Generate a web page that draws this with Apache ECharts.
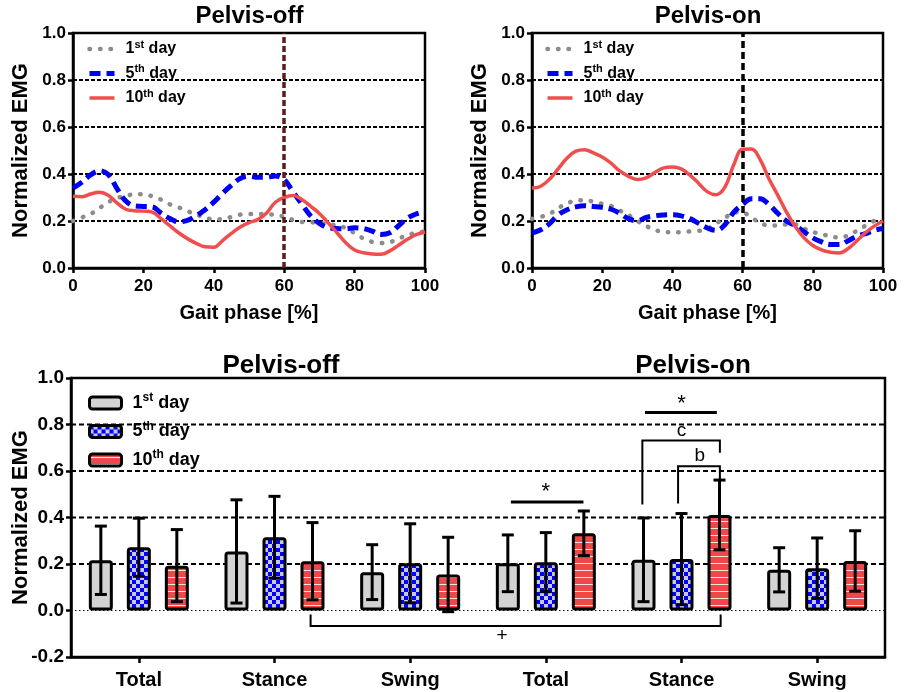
<!DOCTYPE html>
<html><head><meta charset="utf-8">
<script src="https://cdn.jsdelivr.net/npm/echarts@6/dist/echarts.min.js"></script>
<style>html,body{margin:0;padding:0;background:#fff}#c{width:904px;height:692px}</style>
</head><body><div id="c"></div>
<script>
// ---------- DATA ----------
const gaitPhase = [0,2.5,5,7.5,10,12.5,15,17.5,20,22.5,25,27.5,30,32.5,35,37.5,40,42.5,45,47.5,50,52.5,55,57.5,60,62.5,65,67.5,70,72.5,75,77.5,80,82.5,85,87.5,90,92.5,95,97.5,100];
const gaitTicks = [0,20,40,60,80,100];
const stanceSwingBoundary = 60;

const off1st  = [0.200,0.215,0.230,0.255,0.280,0.297,0.308,0.313,0.314,0.305,0.291,0.271,0.258,0.242,0.228,0.215,0.207,0.208,0.217,0.227,0.230,0.230,0.229,0.226,0.218,0.205,0.196,0.195,0.190,0.187,0.180,0.170,0.148,0.126,0.111,0.106,0.110,0.125,0.140,0.150,0.155];
const off5th  = [0.340,0.365,0.396,0.414,0.398,0.338,0.285,0.264,0.262,0.260,0.234,0.211,0.197,0.203,0.222,0.248,0.280,0.318,0.352,0.381,0.390,0.386,0.386,0.392,0.377,0.324,0.272,0.222,0.190,0.172,0.168,0.167,0.171,0.168,0.157,0.143,0.150,0.180,0.212,0.230,0.240];
const off10th = [0.305,0.303,0.315,0.322,0.310,0.277,0.250,0.244,0.242,0.238,0.210,0.180,0.150,0.125,0.105,0.090,0.088,0.117,0.147,0.174,0.193,0.206,0.234,0.280,0.300,0.308,0.292,0.263,0.232,0.192,0.150,0.107,0.077,0.065,0.060,0.058,0.073,0.097,0.122,0.142,0.153];

const on1st  = [0.209,0.218,0.230,0.255,0.275,0.286,0.288,0.282,0.273,0.264,0.244,0.225,0.200,0.179,0.162,0.154,0.152,0.152,0.156,0.158,0.167,0.190,0.213,0.237,0.236,0.214,0.192,0.181,0.181,0.185,0.185,0.168,0.153,0.145,0.134,0.130,0.138,0.158,0.180,0.200,0.210];
const on5th  = [0.149,0.163,0.189,0.226,0.248,0.260,0.265,0.262,0.258,0.250,0.233,0.210,0.201,0.215,0.222,0.226,0.227,0.222,0.210,0.190,0.170,0.160,0.185,0.238,0.270,0.295,0.295,0.270,0.233,0.200,0.180,0.154,0.128,0.111,0.100,0.100,0.115,0.135,0.146,0.160,0.168];
const on10th = [0.340,0.348,0.378,0.423,0.468,0.497,0.503,0.490,0.472,0.446,0.413,0.390,0.377,0.384,0.406,0.426,0.430,0.422,0.395,0.360,0.324,0.312,0.345,0.440,0.505,0.506,0.461,0.380,0.310,0.238,0.177,0.128,0.096,0.077,0.067,0.064,0.082,0.115,0.150,0.178,0.200];

const barCategories = ['Total','Stance','Swing','Total','Stance','Swing'];
const day1Mean  = [0.216,0.254,0.165,0.203,0.218,0.175];
const day1Sd    = [0.147,0.222,0.118,0.122,0.180,0.095];
const day5Mean  = [0.272,0.315,0.203,0.208,0.221,0.182];
const day5Sd    = [0.125,0.176,0.170,0.127,0.196,0.130];
const day10Mean = [0.193,0.212,0.155,0.332,0.411,0.213];
const day10Sd   = [0.155,0.166,0.160,0.096,0.150,0.130];

const barTicks = [-0.2,0.0,0.2,0.4,0.6,0.8,1.0];
const dashedGridValues = [0.2,0.4,0.6,0.8];
const dottedGridValues = [0.0];

// significance annotations: catA, slotA, valA, catB, slotB, valB, level, textCat, textSlot, textVal
const annotText = ['*','*','c','b','+'];
const annotRows = [
  [3,-0.92,0.467, 3,0.99,0.467, 0.467, 3,0,0.508],
  [4,-0.96,0.852, 4,0.93,0.852, 0.852, 4,0,0.888],
  [4,-1.03,0.456, 4,1.01,0.678, 0.731, 4,0,0.772],
  [4,-0.09,0.460, 4,1.01,0.566, 0.620, 4,0.48,0.664],
  [1,0.95,-0.017, 4,1.03,-0.017,-0.067, 3,-1.15,-0.110]
];

// ---------- STYLE ----------
const FONT = "'Liberation Sans', Arial, Helvetica, sans-serif";
const BAR_W = 24, BAR_STEP = 38;
const GRAY = '#8c8c8c', BLUE = '#0000f0', RED = '#f04e4e';
const LS = {
  dot:  {color:GRAY,width:4.5,type:[0.5,10],cap:'round'},
  dash: {color:BLUE,width:5,type:[11,6]},
  solid:{color:RED,width:3.5}
};

function checker(){
  const c=document.createElement('canvas'); c.width=8; c.height=8;
  const g=c.getContext('2d'); g.fillStyle='#c8c8e4'; g.fillRect(0,0,8,8);
  g.fillStyle='#0000ff'; g.fillRect(0,0,4,4); g.fillRect(4,4,4,4); return c;
}
function stripes(){
  const c=document.createElement('canvas'); c.width=8; c.height=7;
  const g=c.getContext('2d'); g.fillStyle='#ef4848'; g.fillRect(0,0,8,7);
  g.fillStyle='rgba(255,255,255,0.85)'; g.fillRect(0,3,8,1); return c;
}
const checkerFill = {image: checker(), repeat:'repeat'};
const stripeFill  = {image: stripes(), repeat:'repeat'};

function dayLabel(num, suf, key){ return '{'+key+'|'+num+'}{'+key+'s|'+suf+'}{'+key+'| day}'; }
const legendNames = {
  off1: dayLabel('1','st','n'), off5: dayLabel('5','th','n'), off10: dayLabel('10','th','n'),
  on1: dayLabel('1','st','n'), on5: dayLabel('5','th','n'), on10: dayLabel('10','th','n'),
  b1: dayLabel('1','st','m'), b5: dayLabel('5','th','m'), b10: dayLabel('10','th','m')
};
const legendRich = {
  n:{fontSize:16,fontWeight:'bold',fontFamily:FONT,color:'#000',lineHeight:20},
  ns:{fontSize:11,fontWeight:'bold',fontFamily:FONT,color:'#000',lineHeight:12,verticalAlign:'top'},
  m:{fontSize:18,fontWeight:'bold',fontFamily:FONT,color:'#000',lineHeight:22},
  ms:{fontSize:12,fontWeight:'bold',fontFamily:FONT,color:'#000',lineHeight:13,verticalAlign:'top'}
};

function lineAxisX(idx){
  return {type:'value', gridIndex:idx, min:0, max:100, interval:20,
    name:'Gait phase [%]', nameLocation:'middle', nameGap:35, nameMoveOverlap:false,
    nameTextStyle:{fontSize:20,fontWeight:'bold',fontFamily:FONT,color:'#000'},
    axisLine:{show:true,lineStyle:{color:'#000',width:2.5}},
    axisTick:{show:true,length:5,lineStyle:{color:'#000',width:2.5}},
    axisLabel:{fontSize:17,fontWeight:'bold',fontFamily:FONT,color:'#000',margin:10},
    splitLine:{show:false}};
}
function lineAxisY(idx){
  return {type:'value', gridIndex:idx, min:0, max:1, interval:0.2,
    name:'Normalized EMG', nameLocation:'middle', nameGap:41, nameMoveOverlap:false,
    nameTextStyle:{fontSize:22,fontWeight:'bold',fontFamily:FONT,color:'#000'},
    axisLine:{show:true,lineStyle:{color:'#000',width:2.5}},
    axisTick:{show:true,length:5,lineStyle:{color:'#000',width:2.5}},
    axisLabel:{fontSize:17,fontWeight:'bold',fontFamily:FONT,color:'#000',margin:7,formatter:v=>v.toFixed(1)},
    splitLine:{show:true,lineStyle:{color:'#000',width:1.8,type:[4,2]}}};
}
function pairs(arr){ return gaitPhase.map((x,i)=>[x,arr[i]]); }
function curve(name, idx, arr, kind, mark){
  const ls = LS[kind];
  const s = {type:'line', name, xAxisIndex:idx, yAxisIndex:idx, data:pairs(arr), smooth:0.4,
    symbol:'none', lineStyle:ls, itemStyle:{color:ls.color}, z:3, animation:false};
  if (mark) s.markLine = {silent:true, symbol:'none', label:{show:false}, animation:false,
    lineStyle:mark, data:[{xAxis:stanceSwingBoundary}]};
  return s;
}
function errorBars(slot, mean, sd){
  return {type:'custom', xAxisIndex:2, yAxisIndex:2, z:6, silent:true, animation:false,
    data: mean.map((m,i)=>[i,m,sd[i]]), encode:{x:0,y:1},
    renderItem:(params, api)=>{
      const cat=api.value(0), m=api.value(1), s=api.value(2);
      const t=api.coord([cat,m+s]), b=api.coord([cat,m-s]);
      const x=t[0]+slot*BAR_STEP, hw=6, st={stroke:'#000',lineWidth:3};
      return {type:'group',children:[
        {type:'line',shape:{x1:x,y1:t[1],x2:x,y2:b[1]},style:st},
        {type:'line',shape:{x1:x-hw,y1:t[1],x2:x+hw,y2:t[1]},style:st},
        {type:'line',shape:{x1:x-hw,y1:b[1],x2:x+hw,y2:b[1]},style:st}]};
    }};
}
function gridLines(values, style){
  return {type:'custom', xAxisIndex:2, yAxisIndex:2, z:1, silent:true, animation:false,
    data: values.map(v=>[0,v]), encode:{x:0,y:1},
    renderItem:(params, api)=>{
      const y=api.coord([0,api.value(1)])[1], cs=params.coordSys;
      return {type:'line',shape:{x1:cs.x,y1:y,x2:cs.x+cs.width,y2:y},style:style};
    }};
}
const annotSeries = {type:'custom', xAxisIndex:2, yAxisIndex:2, z:7, silent:true, animation:false,
  data: annotRows.map(r=>r.slice()), encode:{x:0,y:2},
  renderItem:(params, api)=>{
    const v=k=>api.value(k);
    const px=(cat,slot,val)=>{const p=api.coord([cat,val]); return [p[0]+slot*BAR_STEP,p[1]];};
    const a=px(v(0),v(1),v(2)), al=px(v(0),v(1),v(6)), bl=px(v(3),v(4),v(6)), b=px(v(3),v(4),v(5));
    const flat = v(2)===v(6) && v(5)===v(6);
    const tp=px(v(7),v(8),v(9)); const txt=annotText[params.dataIndex];
    return {type:'group',children:[
      {type:'polyline',shape:{points:[a,al,bl,b]},style:{stroke:'#000',lineWidth:flat?3:2,fill:null}},
      {type:'text',x:tp[0],y:tp[1],style:{text:txt,fill:'#000',font:(txt==='*'?'22px ':'19px ')+FONT,align:'center',verticalAlign:'middle'}}]};
  }};

const barBase = {type:'bar', xAxisIndex:2, yAxisIndex:2, barWidth:BAR_W, barGap:'58.33%', z:2, animation:false};
function lineLegendData(names){
  const kinds=['dot','dash','solid'];
  return names.map((n,i)=>({name:n, itemStyle:{opacity:0}, lineStyle:Object.assign({},LS[kinds[i]])}));
}

const option = {
  animation:false,
  backgroundColor:'#fff',
  textStyle:{fontFamily:FONT},
  grid:[
    {left:73, top:33, width:352, height:235, show:true, borderColor:'#000', borderWidth:2.5, outerBoundsMode:'none', containLabel:false},
    {left:532, top:33, width:351, height:235, show:true, borderColor:'#000', borderWidth:2.5, outerBoundsMode:'none', containLabel:false},
    {left:71, top:378, width:814, height:279, show:true, borderColor:'#000', borderWidth:2.5, outerBoundsMode:'none', containLabel:false}
  ],
  xAxis:[ lineAxisX(0), lineAxisX(1),
    {type:'category', gridIndex:2, data:barCategories, boundaryGap:true,
     axisLine:{show:true,onZero:false,lineStyle:{color:'#000',width:2.5}},
     axisTick:{show:true,alignWithLabel:true,length:6,lineStyle:{color:'#000',width:2.5}},
     axisLabel:{fontSize:20,fontWeight:'bold',fontFamily:FONT,color:'#000',margin:13,interval:0},
     splitLine:{show:false}}
  ],
  yAxis:[ lineAxisY(0), lineAxisY(1),
    {type:'value', gridIndex:2, min:-0.2, max:1.0, interval:0.2,
     name:'Normalized EMG', nameLocation:'middle', nameGap:39, nameMoveOverlap:false,
     nameTextStyle:{fontSize:22,fontWeight:'bold',fontFamily:FONT,color:'#000'},
     axisLine:{show:true,onZero:false,lineStyle:{color:'#000',width:2.5}},
     axisTick:{show:true,length:5,lineStyle:{color:'#000',width:2.5}},
     axisLabel:{fontSize:19,fontWeight:'bold',fontFamily:FONT,color:'#000',margin:7,formatter:v=>v.toFixed(1)},
     splitLine:{show:false}}
  ],
  legend:[
    {orient:'vertical', left:82, top:34, itemWidth:25, itemHeight:14, itemGap:6.5,
     itemStyle:{opacity:0},
     data:lineLegendData(['off1','off5','off10']), formatter:n=>legendNames[n], textStyle:{rich:legendRich, padding:[0,0,0,6]}, selectedMode:false},
    {orient:'vertical', left:540, top:34, itemWidth:25, itemHeight:14, itemGap:6.5,
     itemStyle:{opacity:0},
     data:lineLegendData(['on1','on5','on10']), formatter:n=>legendNames[n], textStyle:{rich:legendRich, padding:[0,0,0,6]}, selectedMode:false},
    {orient:'vertical', left:83, top:387, itemWidth:32, itemHeight:12, itemGap:8.5, icon:'roundRect',
     itemStyle:{borderColor:'#000',borderWidth:3},
     data:['b1','b5','b10'], formatter:n=>legendNames[n], textStyle:{rich:legendRich, padding:[0,0,0,6]}, selectedMode:false}
  ],
  graphic:[
    {type:'text', x:249.5, y:16, style:{text:'Pelvis-off', font:'bold 24px '+FONT, fill:'#000', align:'center', verticalAlign:'middle'}},
    {type:'text', x:708, y:16, style:{text:'Pelvis-on', font:'bold 24px '+FONT, fill:'#000', align:'center', verticalAlign:'middle'}},
    {type:'text', x:281, y:366, style:{text:'Pelvis-off', font:'bold 26px '+FONT, fill:'#000', align:'center', verticalAlign:'middle'}},
    {type:'text', x:693, y:366, style:{text:'Pelvis-on', font:'bold 26px '+FONT, fill:'#000', align:'center', verticalAlign:'middle'}}
  ],
  series:[
    curve('off1',0,off1st,'dot'),
    curve('off5',0,off5th,'dash'),
    curve('off10',0,off10th,'solid',{color:'#5e1c1c',width:3.5,type:[6,3]}),
    curve('on1',1,on1st,'dot'),
    curve('on5',1,on5th,'dash'),
    curve('on10',1,on10th,'solid',{color:'#000',width:3.5,type:[7,4]}),
    gridLines(dashedGridValues,{stroke:'#000',lineWidth:1.8,lineDash:[5,3]}),
    gridLines(dottedGridValues,{stroke:'#000',lineWidth:1.2,lineDash:[1.5,2.5]}),
    Object.assign({}, barBase, {name:'b1', data:day1Mean, itemStyle:{color:'#d3d3d3',borderColor:'#000',borderWidth:3,borderRadius:2}}),
    Object.assign({}, barBase, {name:'b5', data:day5Mean, itemStyle:{color:checkerFill,borderColor:'#000',borderWidth:3,borderRadius:2}}),
    Object.assign({}, barBase, {name:'b10', data:day10Mean, itemStyle:{color:stripeFill,borderColor:'#000',borderWidth:3,borderRadius:2}}),
    errorBars(-1, day1Mean, day1Sd),
    errorBars(0, day5Mean, day5Sd),
    errorBars(1, day10Mean, day10Sd),
    annotSeries
  ]
};
const chart = echarts.init(document.getElementById('c'), null, {renderer:'canvas'});
chart.setOption(option);
</script></body></html>
